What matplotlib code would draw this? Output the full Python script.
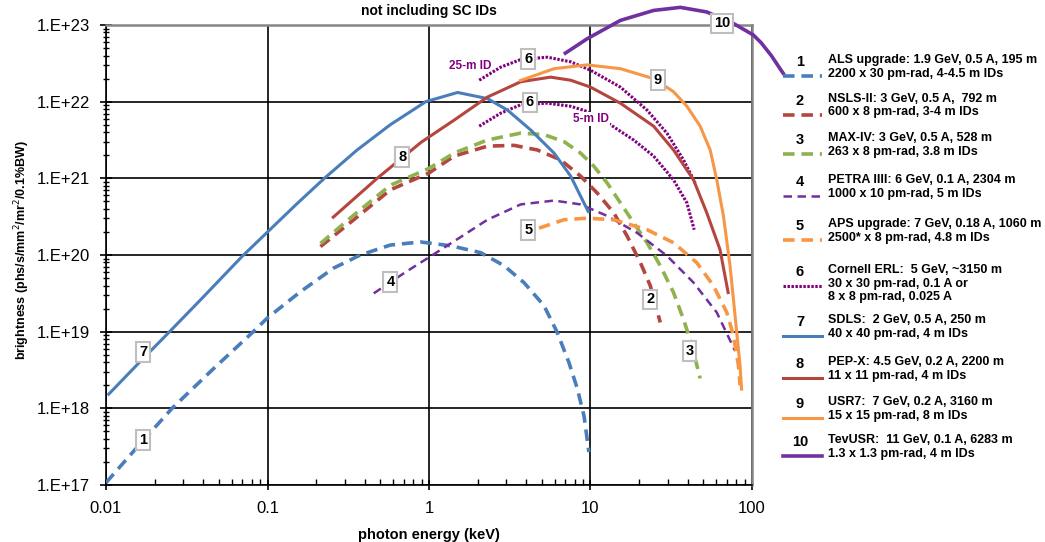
import numpy as np
import matplotlib.pyplot as plt
from matplotlib.lines import Line2D

plt.rcParams['font.family'] = ['Liberation Sans', 'DejaVu Sans']

# values, as log10(photon energy / keV) and log10(brightness)
als_e = [-2.0, -1.8, -1.591, -1.343, -1.088, -1.0, -0.797, -0.59, -0.425, -0.239, -0.053, 0.136, 0.321,
         0.465, 0.588, 0.712, 0.794, 0.866, 0.918, 0.96, 0.99]
als_b = [17.03, 17.51, 18.0, 18.5, 19.0, 19.18, 19.52, 19.83, 20.0, 20.13, 20.17, 20.12, 20.03,
         19.86, 19.64, 19.34, 18.99, 18.6, 18.26, 17.9, 17.43]

nsls_e = [-0.672, -0.466, -0.239, 0.0, 0.156, 0.362, 0.527, 0.671, 0.815, 0.938, 1.041, 1.144, 1.226,
          1.309, 1.37, 1.432]
nsls_b = [20.11, 20.46, 20.85, 21.07, 21.29, 21.42, 21.43, 21.37, 21.24, 21.03, 20.81, 20.55, 20.25,
          19.9, 19.6, 19.12]

maxiv_e = [-0.672, -0.466, -0.239, 0.0, 0.156, 0.362, 0.568, 0.712, 0.835, 0.938, 1.02, 1.103, 1.185,
           1.267, 1.35, 1.432, 1.514, 1.576, 1.628, 1.679]
maxiv_b = [20.15, 20.52, 20.91, 21.13, 21.33, 21.5, 21.59, 21.57, 21.48, 21.33, 21.16, 20.94, 20.68,
           20.42, 20.16, 19.86, 19.51, 19.16, 18.82, 18.39]

petra_e = [-0.342, -0.15, 0.0, 0.156, 0.362, 0.568, 0.774, 0.938, 1.103, 1.288, 1.473, 1.638, 1.782, 1.895]
petra_b = [19.5, 19.77, 19.97, 20.18, 20.46, 20.66, 20.71, 20.66, 20.51, 20.29, 19.99, 19.64, 19.25, 18.75]

aps_e = [0.681, 0.835, 0.979, 1.144, 1.35, 1.514, 1.658, 1.761, 1.844, 1.885, 1.916, 1.926]
aps_b = [20.35, 20.46, 20.48, 20.46, 20.33, 20.16, 19.9, 19.6, 19.25, 18.95, 18.56, 18.3]

erl25_e = [0.311, 0.444, 0.568, 0.733, 0.877, 1.0, 1.185, 1.35, 1.473, 1.576, 1.648]
erl25_b = [22.28, 22.45, 22.55, 22.58, 22.52, 22.41, 22.19, 21.89, 21.59, 21.24, 20.94]

erl5_e = [0.311, 0.444, 0.568, 0.733, 0.877, 0.969, 1.123, 1.267, 1.391, 1.514, 1.597, 1.642]
erl5_b = [21.68, 21.85, 21.96, 21.98, 21.94, 21.88, 21.7, 21.5, 21.29, 20.98, 20.68, 20.33]

sdls_e = [-1.99, -1.77, -1.634, -1.417, -1.158, -1.0, -0.817, -0.648, -0.445, -0.239, -0.02, 0.177, 0.362,
          0.486, 0.63, 0.774, 0.877, 0.938, 0.99]
sdls_b = [18.17, 18.65, 18.94, 19.41, 19.98, 20.3, 20.67, 21.0, 21.37, 21.7, 22.0, 22.12, 22.04,
          21.89, 21.63, 21.33, 21.03, 20.77, 20.55]

pepx_e = [-0.6, -0.321, -0.049, 0.156, 0.362, 0.568, 0.753, 0.877, 1.0, 1.185, 1.391, 1.514, 1.638,
          1.72, 1.802, 1.854]
pepx_b = [20.48, 21.0, 21.47, 21.76, 22.06, 22.26, 22.32, 22.28, 22.19, 21.98, 21.68, 21.37, 20.98,
          20.55, 20.07, 19.49]

usr7_e = [0.558, 0.774, 0.979, 1.185, 1.391, 1.514, 1.597, 1.679, 1.741, 1.782, 1.823, 1.864, 1.895,
          1.926, 1.936]
usr7_b = [22.27, 22.43, 22.48, 22.43, 22.3, 22.13, 21.94, 21.68, 21.37, 20.98, 20.51, 19.86, 19.21,
          18.56, 18.23]

tev_e = [0.835, 0.979, 1.185, 1.391, 1.556, 1.72, 1.885, 2.008, 2.056, 2.12, 2.18, 2.2]
tev_b = [22.62, 22.82, 23.06, 23.19, 23.23, 23.17, 23.02, 22.87, 22.77, 22.6, 22.41, 22.35]

# number tags on the curves
tag_text = ['1', '7', '8', '4', '5', '6', '6', '2', '3', '9', '10']
tag_e = [-1.77, -1.77, -0.166, -0.239, 0.615, 0.615, 0.623, 1.37, 1.613, 1.416, 1.813]
tag_b = [17.59, 18.73, 21.28, 19.65, 20.33, 22.56, 21.99, 19.42, 18.75, 22.28, 23.02]

legend_num = ['1', '2', '3', '4', '5', '6', '7', '8', '9', '10']
legend_text = [
    'ALS upgrade: 1.9 GeV, 0.5 A, 195 m\n2200 x 30 pm-rad, 4-4.5 m IDs',
    'NSLS-II: 3 GeV, 0.5 A,  792 m\n600 x 8 pm-rad, 3-4 m IDs',
    'MAX-IV: 3 GeV, 0.5 A, 528 m\n263 x 8 pm-rad, 3.8 m IDs',
    'PETRA IIII: 6 GeV, 0.1 A, 2304 m\n1000 x 10 pm-rad, 5 m IDs',
    'APS upgrade: 7 GeV, 0.18 A, 1060 m\n2500* x 8 pm-rad, 4.8 m IDs',
    'Cornell ERL:  5 GeV, ~3150 m\n30 x 30 pm-rad, 0.1 A or\n8 x 8 pm-rad, 0.025 A',
    'SDLS:  2 GeV, 0.5 A, 250 m\n40 x 40 pm-rad, 4 m IDs',
    'PEP-X: 4.5 GeV, 0.2 A, 2200 m\n11 x 11 pm-rad, 4 m IDs',
    'USR7:  7 GeV, 0.2 A, 3160 m\n15 x 15 pm-rad, 8 m IDs',
    'TevUSR:  11 GeV, 0.1 A, 6283 m\n1.3 x 1.3 pm-rad, 4 m IDs',
]

blue = '#4A7EBB'
red = '#B5463F'
green = '#8DB24E'
violet = '#7030A0'
orange = '#F79646'
magenta = '#800080'

dash = (0, (3.2, 1.9))
dash4 = (0, (3.4, 2.2))
dots = (0, (0.8, 0.5))

styles = [
    dict(color=blue, lw=2.6, ls=dash),
    dict(color=red, lw=2.6, ls=dash),
    dict(color=green, lw=2.6, ls=dash),
    dict(color=violet, lw=1.8, ls=dash4),
    dict(color=orange, lw=2.6, ls=dash),
    dict(color=magenta, lw=2.2, ls=dots),
    dict(color=blue, lw=2.2, ls='-'),
    dict(color=red, lw=2.2, ls='-'),
    dict(color=orange, lw=2.2, ls='-'),
    dict(color=violet, lw=2.6, ls='-'),
]

curves = [
    (als_e, als_b, 0), (nsls_e, nsls_b, 1), (maxiv_e, maxiv_b, 2), (petra_e, petra_b, 3),
    (aps_e, aps_b, 4), (erl25_e, erl25_b, 5), (erl5_e, erl5_b, 5), (sdls_e, sdls_b, 6),
    (pepx_e, pepx_b, 7), (usr7_e, usr7_b, 8), (tev_e, tev_b, 9),
]

fig = plt.figure(figsize=(10.45, 5.42), dpi=100)
ax = fig.add_axes([106/1045, 1-485/542, 646/1045, 460/542])

for e, b, k in curves:
    ax.plot(10**np.array(e), 10**np.array(b), clip_on=(k != 9), solid_capstyle='butt',
            solid_joinstyle='round', zorder=3, **styles[k])

box = dict(boxstyle='square,pad=0.2', fc='white', ec='#BFBFBF', lw=1.5)
for t, e, b in zip(tag_text, tag_e, tag_b):
    ax.text(10**e, 10**b, t, ha='center', va='center', fontsize=10.5, fontweight='bold', bbox=box, zorder=5)

ax.text(10**0.253, 10**22.47, '25-m ID', color=magenta, fontsize=8.5, fontweight='bold', ha='center', va='center', zorder=5)
ax.text(10**1.004, 10**21.77, '5-m ID', color=magenta, fontsize=8.5, fontweight='bold', ha='center', va='center', zorder=5,
        bbox=dict(boxstyle='square,pad=0.1', fc='white', ec='none'))

ax.set_xscale('log')
ax.set_yscale('log')
ax.set_xlim(0.01, 100)
ax.set_ylim(1e17, 1e23)
ax.set_xticks([0.01, 0.1, 1, 10, 100])
ax.set_xticklabels(['0.01', '0.1', '1', '10', '100'])
ax.set_yticks([10.0**k for k in range(17, 24)])
ax.set_yticklabels(['1.E+%d' % k for k in range(17, 24)])
ax.grid(True, which='major', color='black', lw=1.2)
ax.set_axisbelow(True)
ax.tick_params(axis='both', which='major', labelsize=12)
ax.tick_params(axis='y', which='major', direction='inout', length=9, width=1.2, pad=7)
ax.tick_params(axis='y', which='minor', direction='inout', length=5, width=1)
ax.tick_params(axis='x', which='major', direction='inout', length=7, width=1.2, pad=8)
ax.tick_params(axis='x', which='minor', direction='in', length=4, width=1)
for s in ['top', 'right']:
    ax.spines[s].set_color('#868686')
    ax.spines[s].set_linewidth(1.8)
for s in ['left', 'bottom']:
    ax.spines[s].set_linewidth(1.2)

ax.set_xlabel('photon energy (keV)', fontsize=10.5, fontweight='bold', labelpad=9)
fig.text(22/1045, 1-250/542, 'brightness (phs/s/mm$^2$/mr$^2$/0.1%BW)', rotation=90, ha='center', va='center',
         fontsize=9, fontweight='bold')
fig.text(429/1045, 1-11/542, 'not including SC IDs', ha='center', va='center', fontsize=10, fontweight='bold')

# legend panel on the right, laid out in pixel units
lg = fig.add_axes([0, 0, 1, 1], facecolor='none')
lg.set_xlim(0, 1045)
lg.set_ylim(542, 0)
lg.axis('off')
num_y = [62, 101, 140, 182, 226, 272, 322, 364, 404, 442]
for i, (n, t) in enumerate(zip(legend_num, legend_text)):
    y = num_y[i]
    lg.text(800, y, n, ha='center', va='center', fontsize=10.5, fontweight='bold')
    ly = y + 14
    lg.add_line(Line2D([783, 822], [ly, ly], **styles[i]))
    for j, s in enumerate(t.split('\n')):
        lg.text(828, y - 2 + j * 13.5, s, ha='left', va='center', fontsize=9, fontweight='bold')

fig.savefig('out.png', dpi=100)
